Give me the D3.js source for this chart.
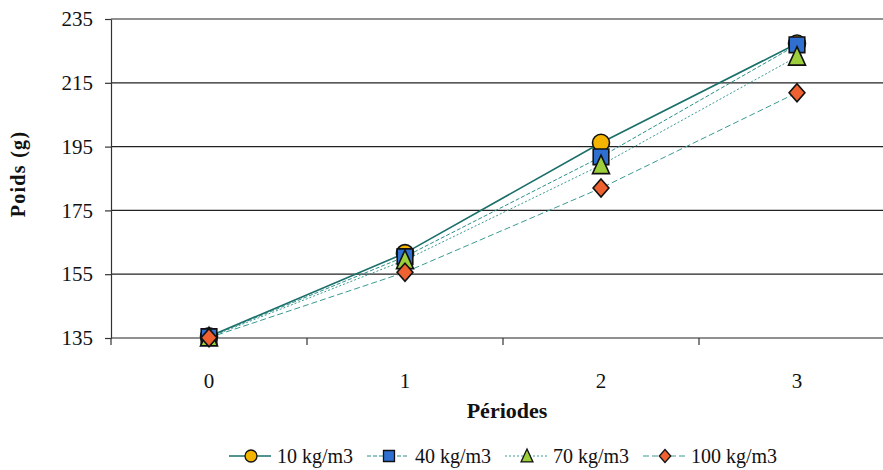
<!DOCTYPE html>
<html>
<head>
<meta charset="utf-8">
<script src="https://cdn.jsdelivr.net/npm/d3@7"></script>
<style>
  body { margin: 0; background: #fff; }
  svg text { font-family: "Liberation Serif", Tinos, "Times New Roman", Times, "DejaVu Serif", serif !important; fill: #111; }
</style>
</head>
<body>
<svg></svg>
<script>
var width = 883;
var height = 470;

var margin = { "top": 19, "bottom": 132, "left": 111, "right": -12 };

// data
var periods = ["0", "1", "2", "3"];
var yTicks = [135, 155, 175, 195, 215, 235];
var seriesNames = ["10 kg/m3", "40 kg/m3", "70 kg/m3", "100 kg/m3"];
var s10 = [135.5, 161.6, 196.2, 227.3];
var s40 = [135.4, 160.5, 191.8, 226.9];
var s70 = [135.2, 159.4, 189.2, 223.2];
var s100 = [135.1, 155.6, 182.0, 211.9];

// narrow marker shapes like the spreadsheet ones (size = half height)
var tallTriangle = {
  draw: function(ctx, size) {
    var h = size, w = size * 0.85;
    ctx.moveTo(0, -h);
    ctx.lineTo(w, h * 0.85);
    ctx.lineTo(-w, h * 0.85);
    ctx.closePath();
  }
};
var boxDiamond = {
  draw: function(ctx, size) {
    var h = size, w = size * 0.88;
    ctx.moveTo(0, -h);
    ctx.lineTo(w, 0);
    ctx.lineTo(0, h);
    ctx.lineTo(-w, 0);
    ctx.closePath();
  }
};
var circleR = {
  draw: function(ctx, size) {
    ctx.moveTo(size, 0);
    ctx.arc(0, 0, size, 0, 2 * Math.PI);
  }
};
var squareS = {
  draw: function(ctx, size) {
    ctx.rect(-size, -size, size * 2, size * 2);
  }
};

var series = [
  { name: seriesNames[0], values: s10, shape: circleR, r: 8.5, lr: 6, fill: "#f4b400", dash: null, color: "#1b6f6a", w: 1.6 },
  { name: seriesNames[1], values: s40, shape: squareS, r: 7.8, lr: 5.5, fill: "#2f6fd0", dash: "4,2", color: "#2a8f88", w: 1 },
  { name: seriesNames[2], values: s70, shape: tallTriangle, r: 10, lr: 7, fill: "#9ccf3a", dash: "2,2", color: "#3a9a92", w: 1 },
  { name: seriesNames[3], values: s100, shape: boxDiamond, r: 9, lr: 6.5, fill: "#ee6130", dash: "6,3", color: "#3a9a92", w: 1 }
];

var innerW = width - margin.left - margin.right;
var innerH = height - margin.top - margin.bottom;

var svg = d3.select("svg")
            .attr("width", width)
            .attr("height", height);

var g = svg.append("g")
           .attr("transform", "translate(" + margin.left + "," + margin.top + ")");

var scaleX = d3.scaleBand()
               .domain(periods)
               .range([0, innerW])
               .padding(0);

var scaleY = d3.scaleLinear()
               .domain([135, 235])
               .range([innerH, 0]);

// gridlines
g.selectAll(".grid")
  .data(yTicks)
  .enter()
  .append("line")
  .attr("x1", 0)
  .attr("x2", innerW)
  .attr("y1", function(d) { return scaleY(d); })
  .attr("y2", function(d) { return scaleY(d); })
  .attr("stroke", "#222")
  .attr("stroke-width", 1.2);

// y axis
var yAxis = d3.axisLeft(scaleY)
              .tickValues(yTicks)
              .tickSizeInner(6)
              .tickSizeOuter(0)
              .tickPadding(12);

var yG = g.append("g").call(yAxis);
yG.attr("font-family", null).attr("font-size", null);
yG.select(".domain").attr("stroke", "#333").attr("stroke-width", 1.2);
yG.selectAll(".tick line").attr("stroke", "#333").attr("stroke-width", 1.2);
yG.selectAll(".tick text")
  .style("font-size", "21px")
  .attr("fill", "#111");

// x axis
var xAxis = d3.axisBottom(scaleX)
              .tickSize(0)
              .tickPadding(35);

var xG = g.append("g")
          .attr("transform", "translate(0," + innerH + ")")
          .call(xAxis);
xG.attr("font-family", null).attr("font-size", null);
xG.select(".domain").remove();
xG.selectAll(".tick text")
  .style("font-size", "21px")
  .attr("fill", "#111");

// x tick marks between categories
g.selectAll(".xtick")
  .data(periods)
  .enter()
  .append("line")
  .attr("x1", function(d) { return scaleX(d); })
  .attr("x2", function(d) { return scaleX(d); })
  .attr("y1", innerH)
  .attr("y2", innerH + 7)
  .attr("stroke", "#333")
  .attr("stroke-width", 1.2);

// lines
var line = d3.line()
             .x(function(d, i) { return scaleX(periods[i]) + scaleX.bandwidth() / 2; })
             .y(function(d) { return scaleY(d); });

series.slice().reverse().forEach(function(s) {
  g.append("path")
   .datum(s.values)
   .attr("d", line)
   .attr("fill", "none")
   .attr("stroke", s.color)
   .attr("stroke-width", s.w)
   .attr("stroke-dasharray", s.dash);
});

// markers
series.forEach(function(s) {
  g.selectAll(null)
   .data(s.values)
   .enter()
   .append("path")
   .attr("transform", function(d, i) {
     return "translate(" + (scaleX(periods[i]) + scaleX.bandwidth() / 2) + "," + scaleY(d) + ")";
   })
   .attr("d", d3.symbol().type(s.shape).size(s.r))
   .attr("fill", s.fill)
   .attr("stroke", "#111")
   .attr("stroke-width", 1.6);
});

// axis titles
svg.append("text")
   .attr("x", 507)
   .attr("y", 418)
   .attr("text-anchor", "middle")
   .style("font-size", "22px")
   .style("font-weight", "bold")
   .text("Périodes");

svg.append("text")
   .attr("transform", "translate(25,174) rotate(-90)")
   .attr("text-anchor", "middle")
   .style("font-size", "20px")
   .style("font-weight", "bold")
   .style("letter-spacing", "1.3px")
   .text("Poids (g)");

// legend
var legendX = [229, 367, 505, 643];
var legend = svg.selectAll(".legend")
                .data(series)
                .enter()
                .append("g")
                .attr("transform", function(d, i) { return "translate(" + legendX[i] + ",456)"; });

legend.append("line")
      .attr("x1", 0)
      .attr("x2", 42)
      .attr("y1", 0)
      .attr("y2", 0)
      .attr("stroke", function(d) { return d.color; })
      .attr("stroke-width", function(d) { return d.w; })
      .attr("stroke-dasharray", function(d) { return d.dash; });

legend.append("path")
      .attr("transform", "translate(22,0)")
      .attr("d", function(d) { return d3.symbol().type(d.shape).size(d.lr)(); })
      .attr("fill", function(d) { return d.fill; })
      .attr("stroke", "#111")
      .attr("stroke-width", 1.3);

legend.append("text")
      .attr("x", 48)
      .attr("y", 7)
      .style("font-size", "20px")
      .text(function(d) { return d.name; });
</script>
</body>
</html>
